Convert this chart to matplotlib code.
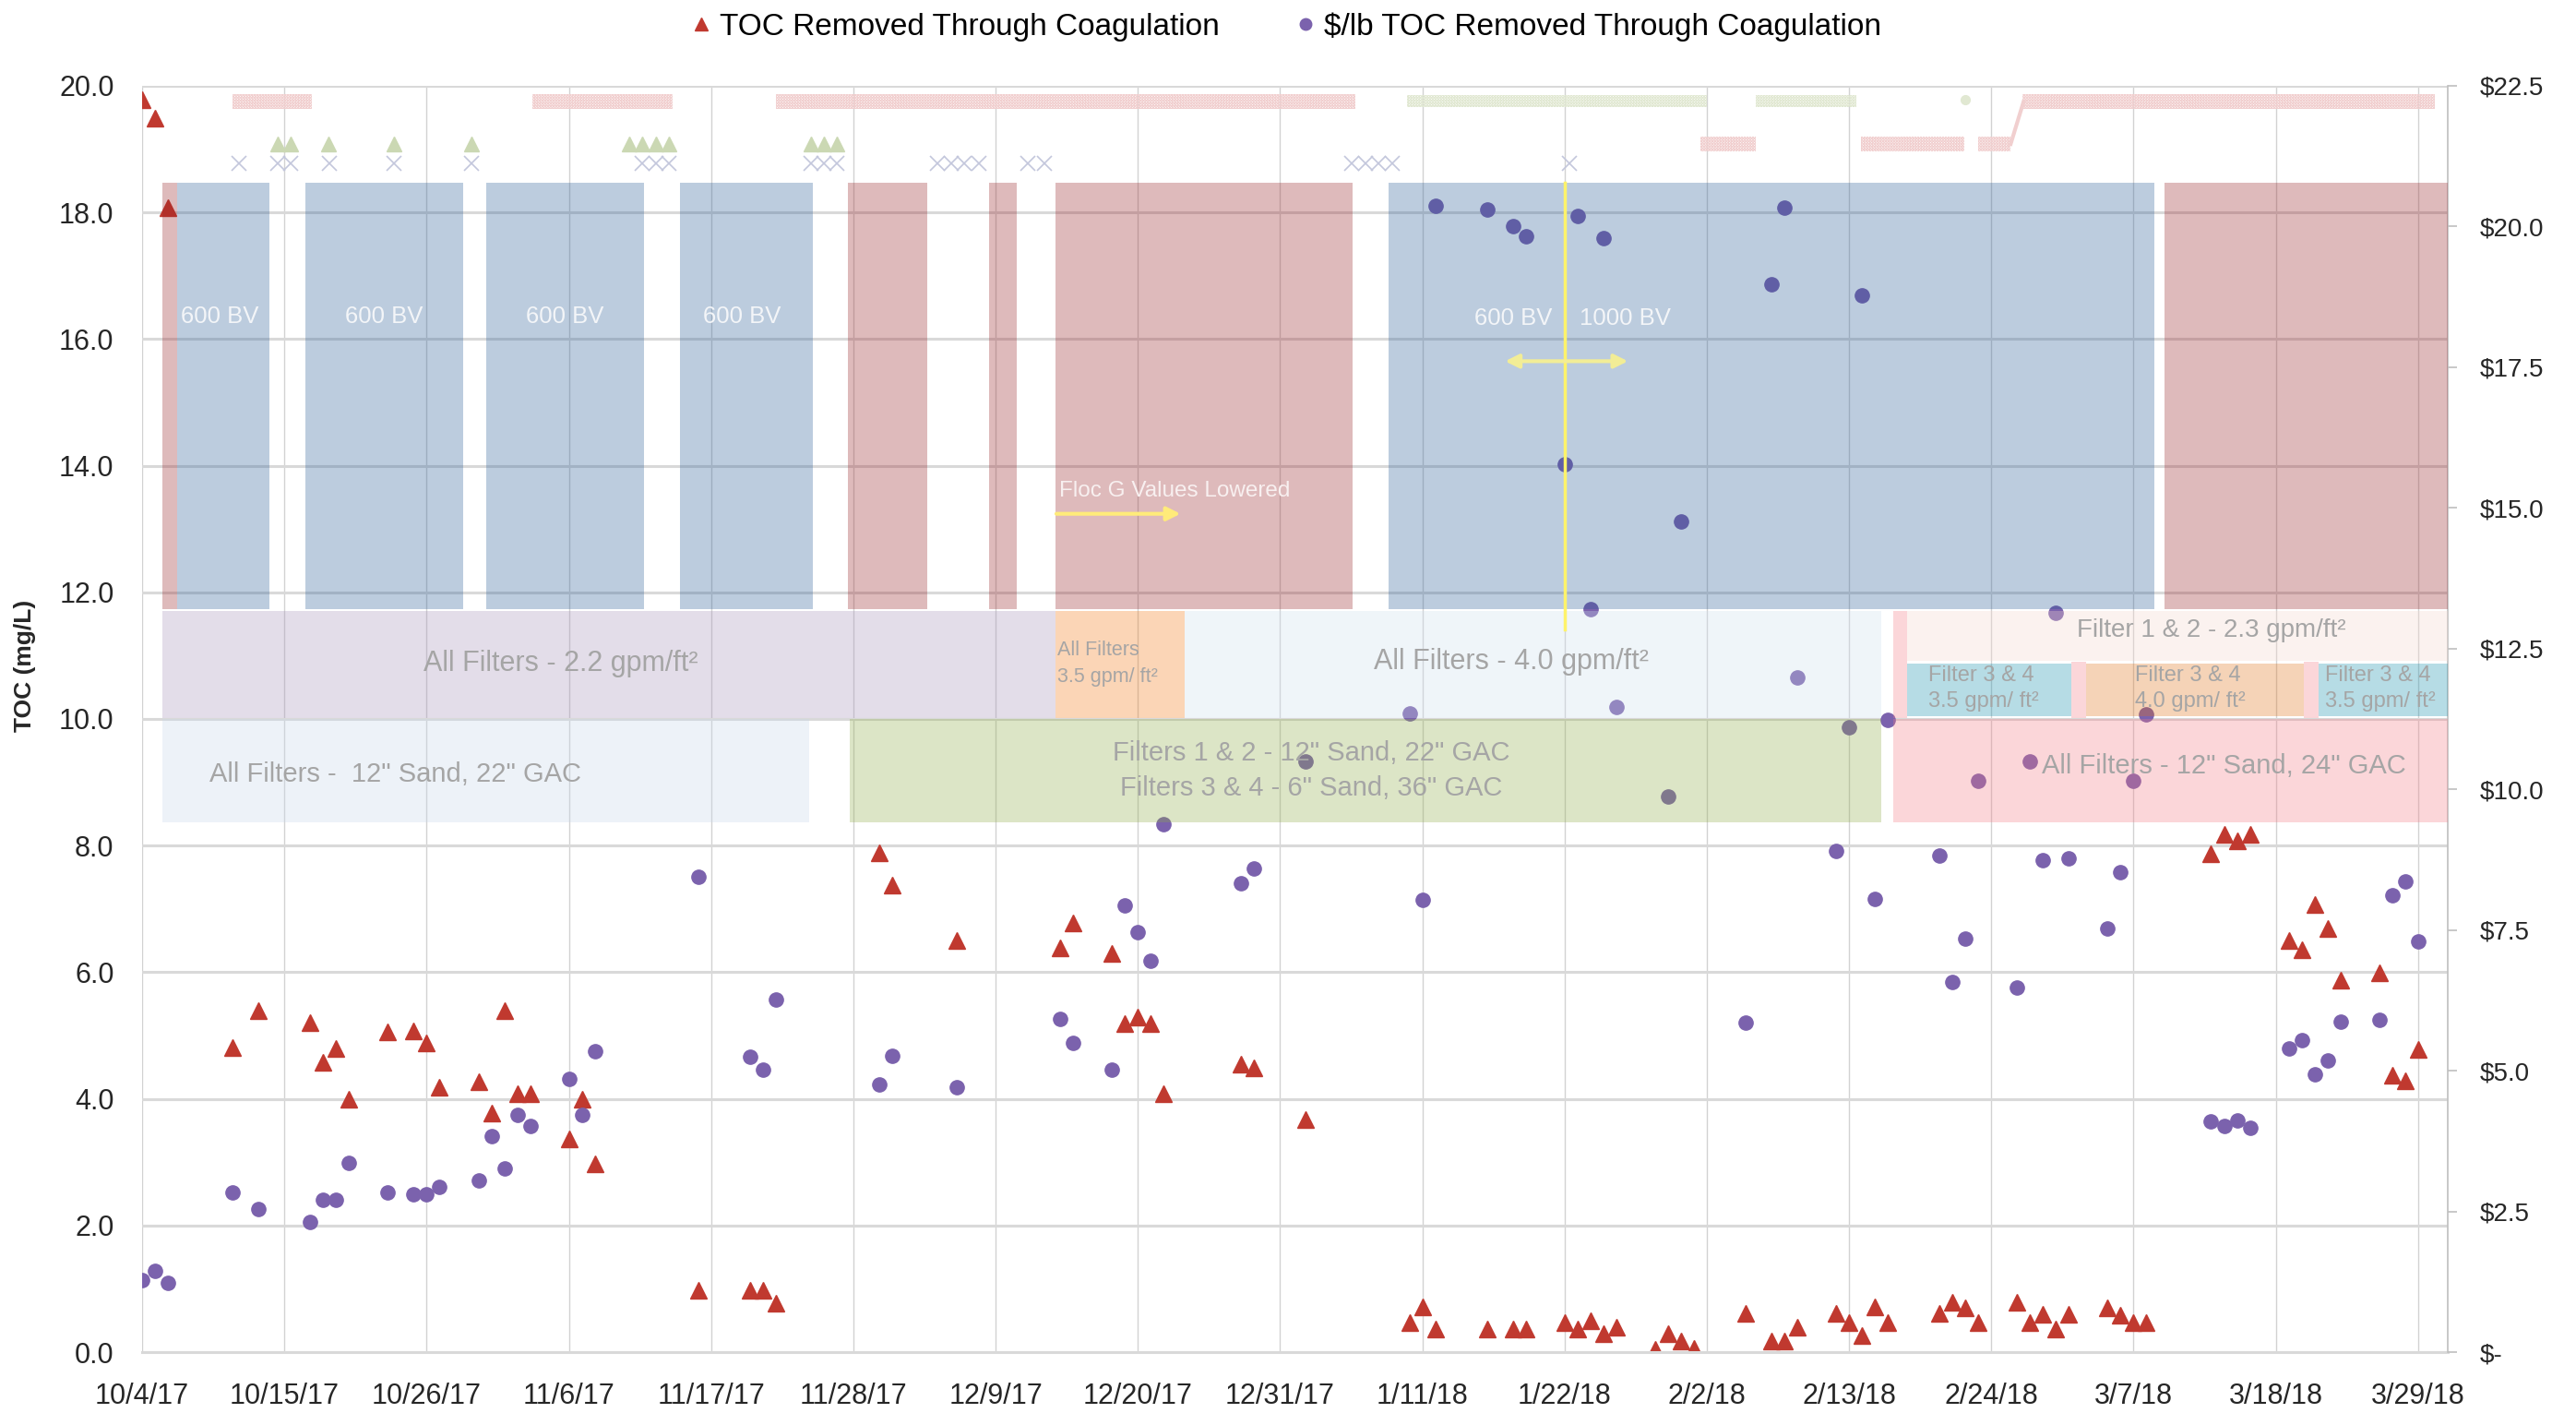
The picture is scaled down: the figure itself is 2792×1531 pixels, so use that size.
import datetime as dt
import matplotlib
matplotlib.use('Agg')
import matplotlib.pyplot as plt
import matplotlib.dates as mdates
from matplotlib.patches import Rectangle
from matplotlib.lines import Line2D
from matplotlib.colors import to_rgb

plt.rcParams['font.family'] = ['Liberation Sans', 'DejaVu Sans']
plt.rcParams['hatch.linewidth'] = 0.8

# x values are days after 10/4/17
toc_days = [0, 1, 2, 7, 9, 13, 14, 15, 16, 19, 21, 22, 23, 26, 27, 28, 29, 30, 33, 34, 35,
            43, 47, 48, 49, 57, 58, 63, 71, 72, 75, 76, 77, 78, 79, 85, 86, 90, 98, 99, 100,
            104, 106, 107, 110, 111, 112, 113, 114, 117, 118, 119, 120, 124, 126, 127, 128,
            131, 132, 133, 134, 135, 139, 140, 141, 142, 145, 146, 147, 148, 149, 152, 153,
            154, 155, 160, 161, 162, 163, 166, 167, 168, 169, 170, 173, 174, 175, 176]
toc_vals = [19.78, 19.49, 18.07, 4.81, 5.39, 5.20, 4.58, 4.80, 3.99, 5.06, 5.08, 4.88, 4.18,
            4.27, 3.77, 5.39, 4.08, 4.08, 3.37, 3.99, 2.97, 0.98, 0.98, 0.98, 0.77, 7.88, 7.38,
            6.50, 6.38, 6.78, 6.29, 5.19, 5.29, 5.19, 4.08, 4.55, 4.49, 3.67, 0.46, 0.71, 0.37,
            0.37, 0.37, 0.37, 0.46, 0.37, 0.49, 0.29, 0.39, 0.05, 0.29, 0.18, 0.06, 0.61, 0.18,
            0.18, 0.39, 0.61, 0.46, 0.26, 0.71, 0.46, 0.61, 0.79, 0.70, 0.46, 0.79, 0.46, 0.60,
            0.37, 0.60, 0.70, 0.59, 0.46, 0.46, 7.87, 8.18, 8.07, 8.18, 6.50, 6.36, 7.07, 6.69,
            5.87, 5.99, 4.37, 4.28, 4.78]

cost_days = [0, 1, 2, 7, 9, 13, 14, 15, 16, 19, 21, 22, 23, 26, 27, 28, 29, 30, 33, 34, 35,
             43, 47, 48, 49, 57, 58, 63, 71, 72, 75, 76, 77, 78, 79, 85, 86, 90, 98, 99, 100,
             104, 106, 107, 110, 111, 112, 113, 114, 118, 119, 124, 126, 127, 128, 131, 132,
             133, 134, 135, 139, 140, 141, 142, 145, 146, 147, 148, 149, 152, 153, 154, 155,
             160, 161, 162, 163, 166, 167, 168, 169, 170, 173, 174, 175, 176]
cost_vals = [1.28, 1.45, 1.23, 2.84, 2.55, 2.31, 2.70, 2.70, 3.36, 2.84, 2.80, 2.80, 2.94,
             3.05, 3.83, 3.27, 4.21, 4.02, 4.86, 4.22, 5.34, 8.45, 5.24, 5.01, 6.26, 4.76, 5.27,
             4.71, 5.92, 5.50, 5.01, 7.93, 7.46, 6.95, 9.38, 8.33, 8.60, 10.49, 11.35, 8.03,
             20.36, 20.30, 20.00, 19.82, 15.78, 20.18, 13.20, 19.79, 11.46, 9.88, 14.76, 5.85,
             18.98, 20.33, 11.99, 8.90, 11.10, 18.78, 8.06, 11.23, 8.83, 6.57, 7.35, 10.15,
             6.47, 10.50, 8.74, 13.14, 8.78, 7.53, 8.53, 10.15, 11.33, 4.10, 4.02, 4.11, 3.99,
             5.40, 5.54, 4.93, 5.19, 5.87, 5.91, 8.12, 8.37, 7.30]

# faint operating-record markers along the top
upper_pink = [(7.0, 13.1), (30.2, 41.0), (49.0, 93.8), (145.4, 177.3)]
upper_green = [(97.8, 121.0), (124.8, 132.6)]
lower_pink = [(120.5, 124.8), (132.9, 140.9), (142.0, 144.5)]
green_tri_days = [10.5, 11.5, 14.4, 19.5, 25.5, 37.7, 38.7, 39.7, 40.7, 51.7, 52.7, 53.7]
gray_x_days = [7.5, 10.5, 11.5, 14.5, 19.5, 25.5, 38.7, 39.7, 40.7, 51.7, 52.7, 53.7,
               61.5, 62.6, 63.6, 64.7, 68.5, 69.8, 93.5, 94.6, 95.6, 96.7, 110.4]

# periods (start day, end day)
bv_periods = [(2.7, 9.86), (12.6, 24.8), (26.6, 38.8), (41.6, 51.9), (96.4, 155.6)]
off_periods = [(1.57, 2.7), (54.6, 60.7), (65.5, 67.6), (70.6, 93.6), (156.4, 178.4)]

start = mdates.date2num(dt.date(2017, 10, 4))

fig = plt.figure(figsize=(27.92, 15.31), dpi=100)
ax = fig.add_axes([0.0552, 0.0431, 0.895, 0.8962])
ax2 = ax.twinx()

gray_txt = '#a5a5a5'


def shade(hexcol, a=0.3):
    # colour that, laid over white at alpha a, looks like hexcol
    return tuple(min(1, max(0, (c - (1 - a)) / a)) for c in to_rgb(hexcol))


def box(d0, d1, y0, y1, col):
    ax2.add_patch(Rectangle((start + d0, y0), d1 - d0, y1 - y0, facecolor=shade(col),
                            alpha=0.3, lw=0, transform=ax.transData, zorder=3))


def label(d, y, s, size, col=gray_txt, ha='center', ls=1.2):
    ax2.text(start + d, y, s, fontsize=size, color=col, ha=ha, va='center',
             linespacing=ls, transform=ax.transData, zorder=5, clip_on=True)


# data
ax.plot([start + d for d in toc_days], toc_vals, ls='none', marker='^', ms=13,
        color='#c0392f', zorder=2)
ax2.plot([start + d for d in cost_days], cost_vals, ls='none', marker='o', ms=11,
         color='#7b62ad', zorder=2)

# row A: bed volume periods
for d0, d1 in bv_periods:
    box(d0, d1, 11.73, 18.47, '#bdcddf')
for d0, d1 in off_periods:
    box(d0, d1, 11.73, 18.47, '#dfbbbc')

# row B: loading rates
box(1.57, 70.6, 10.02, 11.70, '#e4deea')
box(70.6, 80.6, 10.02, 11.70, '#fbd6b7')
box(80.6, 134.5, 10.02, 11.70, '#f0f5fa')
box(135.4, 136.5, 10.02, 11.70, '#fcd7da')
box(136.5, 178.4, 10.92, 11.70, '#fcf3f0')
box(136.5, 149.2, 10.04, 10.88, '#b7dde6')
box(149.2, 150.3, 10.02, 10.90, '#fcd7da')
box(150.3, 167.2, 10.04, 10.88, '#f6d4b8')
box(167.2, 168.3, 10.02, 10.90, '#fcd7da')
box(168.3, 178.4, 10.04, 10.88, '#b7dde6')

# row C: media
box(1.57, 51.6, 8.36, 10.0, '#eef3f9')
box(54.7, 134.5, 8.36, 10.0, '#dde6c7')
box(135.4, 178.4, 8.36, 10.0, '#fcd7da')

for d in [6.0, 18.7, 32.7, 46.4]:
    label(d, 16.35, '600 BV', 18.5, col='#f3f5f8')
label(106.0, 16.33, '600 BV', 18.5, col='#f3f5f8')
label(114.7, 16.33, '1000 BV', 18.5, col='#f3f5f8')
label(70.9, 13.6, 'Floc G Values Lowered', 17.5, col='#f8f0f0', ha='left')

label(32.4, 10.88, 'All Filters - 2.2 gpm/ft²', 22)
label(70.8, 10.87, 'All Filters\n3.5 gpm/ ft²', 15.5, ha='left', ls=1.5)
label(105.9, 10.90, 'All Filters - 4.0 gpm/ft²', 22)
label(160.0, 11.40, 'Filter 1 & 2 - 2.3 gpm/ft²', 20)
label(138.1, 10.48, 'Filter 3 & 4\n3.5 gpm/ ft²', 17, ha='left', ls=1.33)
label(154.1, 10.48, 'Filter 3 & 4\n4.0 gpm/ ft²', 17, ha='left', ls=1.33)
label(168.8, 10.48, 'Filter 3 & 4\n3.5 gpm/ ft²', 17, ha='left', ls=1.33)
label(19.6, 9.12, 'All Filters -  12" Sand, 22" GAC', 21)
label(90.4, 9.18, 'Filters 1 & 2 - 12" Sand, 22" GAC\nFilters 3 & 4 - 6" Sand, 36" GAC', 21, ls=1.45)
label(161.0, 9.26, 'All Filters - 12" Sand, 24" GAC', 21)

# yellow markers
ax2.plot([start + 110.0, start + 110.0], [11.42, 18.47], color='#fff36a', lw=2.5,
         transform=ax.transData, zorder=6)
ax2.annotate('', xy=(start + 115.1, 15.65), xytext=(start + 105.2, 15.65),
             xycoords=ax.transData, textcoords=ax.transData, zorder=6,
             arrowprops=dict(arrowstyle='<|-|>', color='#f2ed96', lw=3, mutation_scale=22))
ax2.annotate('', xy=(start + 80.5, 13.24), xytext=(start + 70.5, 13.24),
             xycoords=ax.transData, textcoords=ax.transData, zorder=6,
             arrowprops=dict(arrowstyle='-|>', color='#ffeb7a', lw=3, mutation_scale=22))

# faint top records
band_pink = '#f1cfcf'
band_green = '#e1e8d2'
for d0, d1 in upper_pink:
    ax.add_patch(Rectangle((start + d0, 19.63), d1 - d0, 0.24, facecolor='none',
                           edgecolor=band_pink, hatch='x' * 11, lw=0, zorder=2))
for d0, d1 in lower_pink:
    ax.add_patch(Rectangle((start + d0, 18.96), d1 - d0, 0.24, facecolor='none',
                           edgecolor=band_pink, hatch='x' * 11, lw=0, zorder=2))
for d0, d1 in upper_green:
    ax.add_patch(Rectangle((start + d0, 19.66), d1 - d0, 0.2, facecolor='none',
                           edgecolor=band_green, hatch='x' * 11, lw=0, zorder=2))
ax.plot([start + 144.5, start + 145.5], [19.08, 19.75], color=band_pink, lw=3, zorder=2)
ax.plot([start + 141.0], [19.78], ls='none', marker='o', ms=7, color=band_green, zorder=2)
ax.plot([start + d for d in green_tri_days], [19.08] * len(green_tri_days), ls='none',
        marker='^', ms=11, color='#cbd8b3', zorder=2)
ax.plot([start + d for d in gray_x_days], [18.77] * len(gray_x_days), ls='none',
        marker='x', ms=12, mew=1.2, color='#c3c7dc', zorder=2)

# axes
ax.set_xlim(start, start + 178.3)
ax.set_ylim(0, 20)
ax2.set_ylim(0, 22.5)
ax.set_xticks([start + d for d in range(0, 177, 11)])
ax.xaxis.set_major_formatter(plt.FuncFormatter(
    lambda v, p: (lambda d: f'{d.month}/{d.day}/{d:%y}')(mdates.num2date(v))))
ax.set_yticks(range(0, 21, 2))
ax.yaxis.set_major_formatter(plt.FuncFormatter(lambda v, p: f'{v:.1f}'))
ax2.set_yticks([i * 2.5 for i in range(10)])
ax2.yaxis.set_major_formatter(plt.FuncFormatter(lambda v, p: '$-' if v == 0 else f'${v:.1f}'))

ax.grid(axis='y', color='#d9d9d9', lw=2.2, zorder=0)
ax.grid(axis='x', color='#d2d2d2', lw=1.0, zorder=0)
ax.set_axisbelow(True)
for s in ['top', 'left', 'right']:
    ax.spines[s].set_visible(False)
    ax2.spines[s].set_visible(s == 'right')
ax.spines['bottom'].set_color('#d9d9d9')
ax.spines['bottom'].set_linewidth(2.2)
ax2.spines['bottom'].set_visible(False)
ax2.spines['right'].set_color('#bfbfbf')
ax2.spines['right'].set_linewidth(1.2)

ax.tick_params(axis='x', length=0, pad=24, labelsize=22, labelcolor='#262626')
ax.tick_params(axis='y', length=0, pad=22, labelsize=22, labelcolor='#262626')
ax2.tick_params(axis='y', length=7, width=1.2, color='#bfbfbf', pad=18, labelsize=20,
                labelcolor='#262626')
ax.set_ylabel('TOC (mg/L)', fontsize=19, fontweight='bold', color='#262626')
ax.yaxis.set_label_coords(-0.046, 0.542)

handles = [Line2D([], [], ls='none', marker='^', ms=10, color='#c0392f'),
           Line2D([], [], ls='none', marker='o', ms=9, color='#7b62ad')]
fig.legend(handles, ['TOC Removed Through Coagulation', '$/lb TOC Removed Through Coagulation'],
           loc='center', bbox_to_anchor=(0.499, 0.981), ncol=2, frameon=False, fontsize=24,
           handletextpad=0.2, handlelength=0.8, columnspacing=2.4)

fig.savefig('out.png', dpi=100)
